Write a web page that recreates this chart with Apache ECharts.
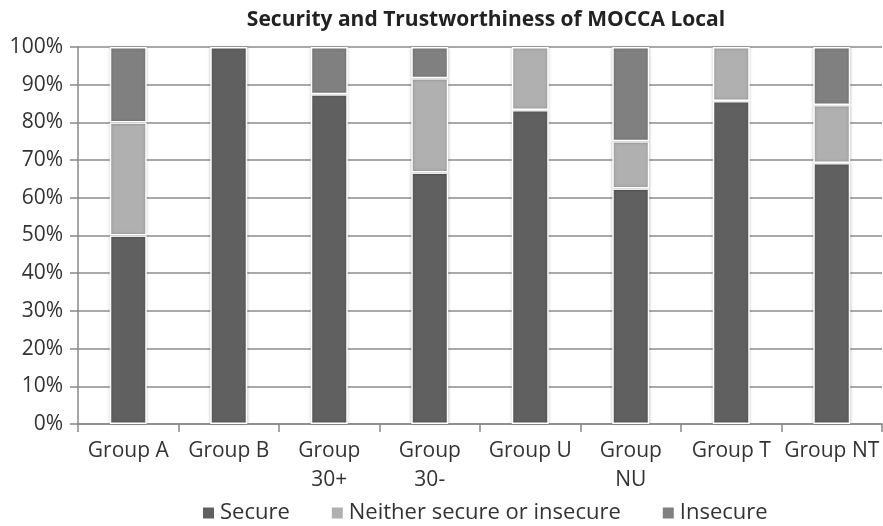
<!DOCTYPE html>
<html>
<head>
<meta charset="utf-8">
<script src="https://cdn.jsdelivr.net/npm/echarts@6/dist/echarts.min.js"></script>
<style>
  html, body { margin: 0; padding: 0; background: #fff; }
  #chart { width: 883px; height: 526px; }
</style>
</head>
<body>
<div id="chart"></div>
<script>
// categories and stacked shares (%)
var categories = ['Group A', 'Group B', 'Group\n30+', 'Group\n30-', 'Group U', 'Group\nNU', 'Group T', 'Group NT'];
var secure = [50, 100, 87.5, 66.7, 83.3, 62.5, 85.7, 69.2];
var neither = [30, 0, 0, 25, 16.7, 12.5, 14.3, 15.4];
var insecure = [20, 0, 12.5, 8.3, 0, 25, 0, 15.4];

var font = '"Open Sans", "Noto Sans", sans-serif';
var myChart = echarts.init(document.getElementById('chart'));

function bar(name, data, color) {
    return {
        name: name,
        type: 'bar',
        stack: 'all',
        barWidth: 37,
        // empty segments are not drawn
        data: data.map(function (v) { return v === 0 ? '-' : v; }),
        itemStyle: {
            color: color,
            borderColor: '#fff',
            borderWidth: 1.5,
            shadowColor: 'rgba(0,0,0,0.25)',
            shadowBlur: 3
        }
    };
}

var option = {
    animation: false,
    title: {
        text: 'Security and Trustworthiness of MOCCA Local',
        left: 481,
        textAlign: 'center',
        top: 5,
        textStyle: { fontFamily: font, fontSize: 21, fontWeight: 'bold', color: '#222' }
    },
    legend: {
        top: 497,
        left: 196,
        itemWidth: 13,
        itemHeight: 13,
        itemGap: 40,
        icon: 'rect',
        textStyle: { fontFamily: font, fontSize: 22, color: '#333' },
        data: ['Secure', 'Neither secure or insecure', 'Insecure']
    },
    grid: { left: 78, right: 1, top: 47, bottom: 102 },
    xAxis: {
        type: 'category',
        data: categories,
        axisLine: { lineStyle: { color: '#888', width: 1.5 } },
        axisTick: { show: true, length: 8, lineStyle: { color: '#888', width: 1.5 } },
        axisLabel: { fontFamily: font, fontSize: 21, color: '#333', lineHeight: 29, margin: 13, interval: 0 }
    },
    yAxis: {
        type: 'value',
        min: 0,
        max: 100,
        interval: 10,
        axisLine: { show: true, lineStyle: { color: '#888', width: 1.5 } },
        axisTick: { show: true, length: 8, lineStyle: { color: '#888', width: 1.5 } },
        axisLabel: { fontFamily: font, fontSize: 21, color: '#333', margin: 15, formatter: '{value}%' },
        splitLine: { lineStyle: { color: '#8c8c8c', width: 1.5 } }
    },
    series: [
        bar('Secure', secure, '#606060'),
        bar('Neither secure or insecure', neither, '#b0b0b0'),
        bar('Insecure', insecure, '#808080')
    ]
};
myChart.setOption(option);
</script>
</body>
</html>
